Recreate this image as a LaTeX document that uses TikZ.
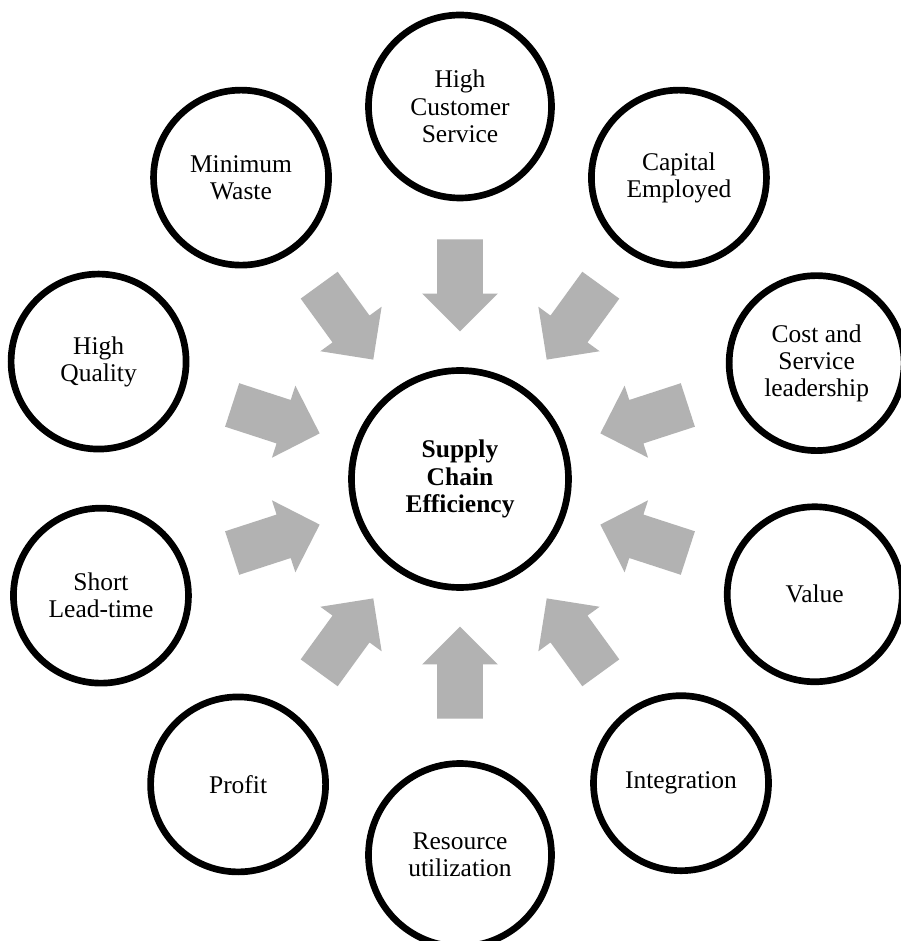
\documentclass[tikz,border=0pt]{standalone}
\usepackage{fontspec}
\setmainfont{Liberation Serif}
\usetikzlibrary{shapes.arrows,calc}

\tikzset{
  ring/.style={circle,draw,line width=3.8pt,fill=white,align=center,inner sep=0pt,
    minimum size=3.5cm,font=\fontsize{14.5}{15.5}\selectfont},
  bigring/.style={ring,minimum size=3.66cm},
  hub/.style={ring,minimum size=4.34cm,font=\fontsize{14.5}{15.5}\selectfont\bfseries},
  push/.style={single arrow,fill=black!30,draw=none,inner xsep=0pt,inner ysep=0.45cm,
    minimum height=1.84cm,single arrow head extend=0.3cm,single arrow tip angle=90}
}

\begin{document}
\begin{tikzpicture}
        \useasboundingbox (-9.2,-9.24) rectangle (8.82,9.58);
        \clip (-9.2,-9.24) rectangle (8.82,9.58);
        \fill [white](-9.2,-9.24) rectangle (8.82,9.58);

        \node[hub] (sce) at (0,0) {Supply\\Chain\\Efficiency};

        \node[bigring] (hcs) at (90:7.45) {High\\Customer\\Service};
        \node[ring] (cap) at (54:7.45) {Capital\\Employed};
        \node[ring] (csl) at (18:7.5) {Cost and\\Service\\leadership};
        \node[ring] (val) at (-18:7.46) {Value};
        \node[ring] (int) at (-54:7.52) {Integration};
        \node[bigring] (res) at (-90:7.52) {Resource\\utilization};
        \node[ring] (pro) at (-126:7.55) {Profit};
        \node[ring] (slt) at (-162:7.55) {Short\\Lead-time};
        \node[ring] (hq) at (162:7.6) {High\\Quality};
        \node[ring] (mw) at (126:7.45) {Minimum\\Waste};

        \node[push,rotate=270] (a1) at ($(sce)!4.1cm!(hcs)$) {};
        \node[push,rotate=234] (a2) at ($(sce)!4.1cm!(cap)$) {};
        \node[push,rotate=198] (a3) at ($(sce)!4.1cm!(csl)$) {};
        \node[push,rotate=162] (a4) at ($(sce)!4.1cm!(val)$) {};
        \node[push,rotate=126] (a5) at ($(sce)!4.1cm!(int)$) {};
        \node[push,rotate=90] (a6) at ($(sce)!4.1cm!(res)$) {};
        \node[push,rotate=54] (a7) at ($(sce)!4.1cm!(pro)$) {};
        \node[push,rotate=18] (a8) at ($(sce)!4.1cm!(slt)$) {};
        \node[push,rotate=-18] (a9) at ($(sce)!4.1cm!(hq)$) {};
        \node[push,rotate=-54] (a10) at ($(sce)!4.1cm!(mw)$) {};
\end{tikzpicture}
\end{document}
